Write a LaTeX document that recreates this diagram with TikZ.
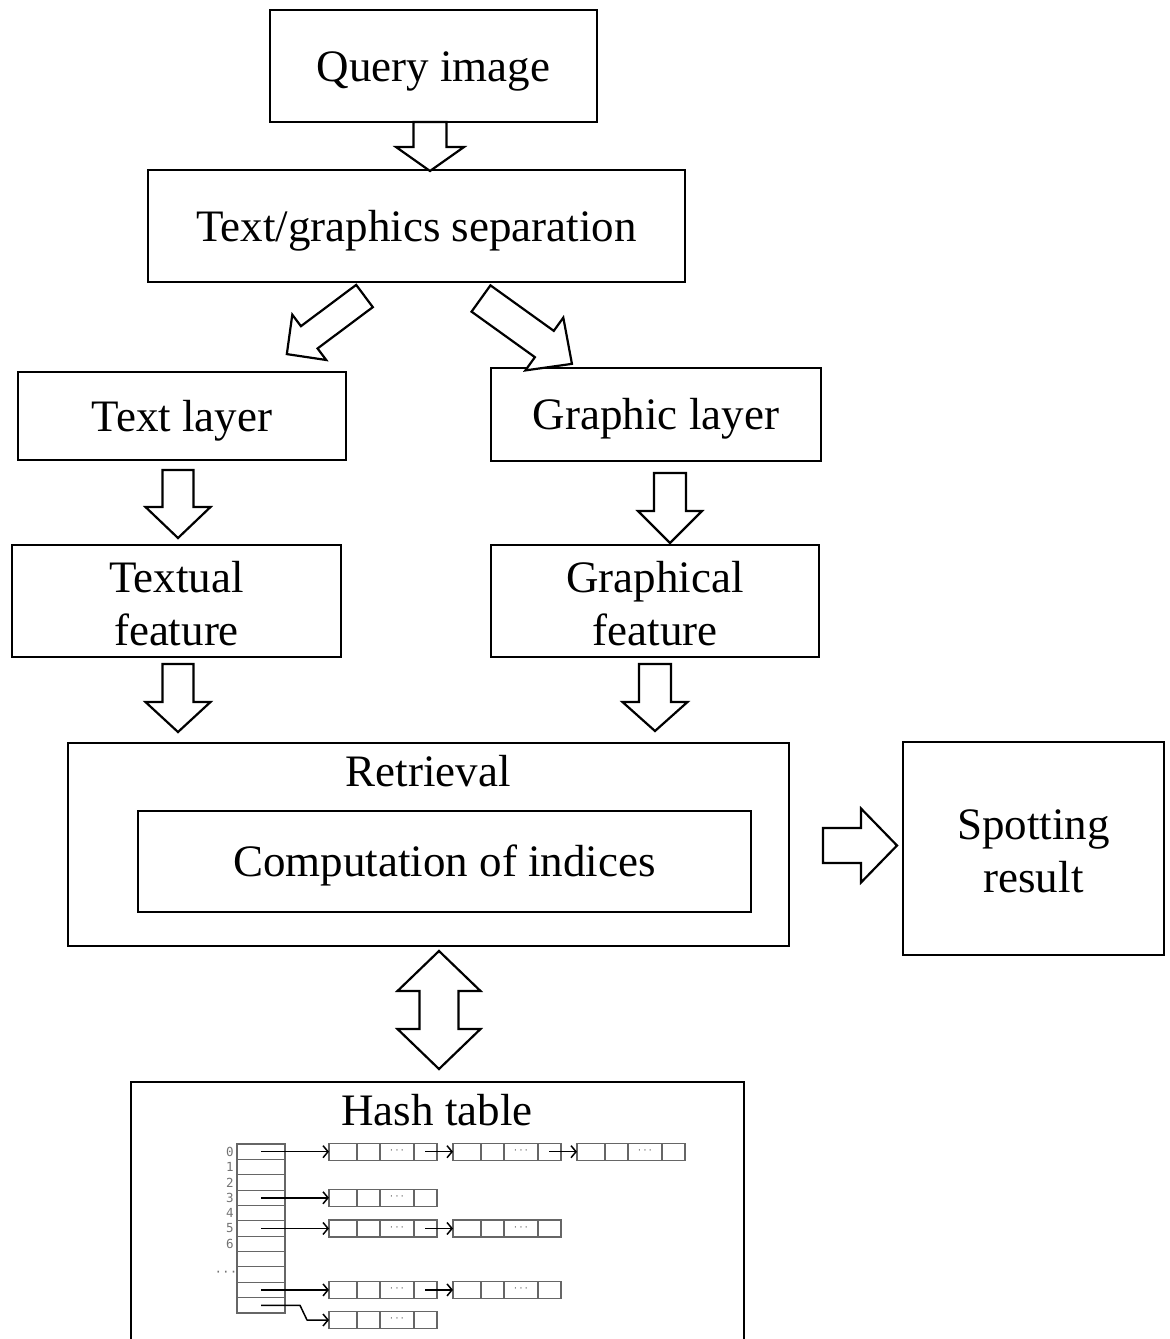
\documentclass[tikz,border=0pt]{standalone}
\usepackage{fontspec}
\setmainfont{Liberation Serif}
\newfontfamily\tablefont{DejaVu Sans Mono}
\usetikzlibrary{arrows.meta,calc}

% one row of a bucket chain: four cells, the third one holding dots
\newcommand\hashlist[3]{%
  \node[listbox, anchor=west] (#1) at (#2,#3) {};
  \foreach \dx in {28,51,85}
    \draw[listline] ($(#1.north west)+(\dx,0)$) -- ($(#1.south west)+(\dx,0)$);
  \node[dotlbl] at ($(#1.west)+(68,0)$) {···};
}

\begin{document}
\begin{tikzpicture}[x=1pt, y=-1pt,
  box/.style={draw, line width=2.5pt, inner sep=0pt, outer sep=0pt},
  lbltext/.style={font=\fontsize{45}{53}\selectfont, align=center, inner sep=0pt},
  lbl/.style={lbltext, text height=32pt, text depth=0pt, yshift=1pt},
  lbltwo/.style={lbltext, yshift=-3pt},
  blk/.style={draw, line width=2.2pt, fill=white, line join=miter},
  listline/.style={draw=black!60, line width=1.1pt},
  listbox/.style={listline, minimum width=108pt, minimum height=17pt, inner sep=0pt, outer sep=0pt},
  tcell/.style={listline, minimum width=48pt, minimum height=15.36pt, inner sep=0pt, outer sep=0pt},
  idx/.style={font=\tablefont\fontsize{12.5}{12.5}\selectfont, text=black!55, inner sep=0pt},
  dotlbl/.style={font=\tablefont\fontsize{9}{9}\selectfont, text=black!55, inner sep=0pt},
  link/.style={line width=1.5pt, line join=round, -{Straight Barb[length=5pt,width=12pt,line width=1.5pt]}},
  pics/blockarrow/.style n args={4}{code={%
    \draw[blk] (-#2,0) -- (-#2,{#1-#4}) -- (-#3,{#1-#4}) -- (0,#1)
      -- (#3,{#1-#4}) -- (#2,{#1-#4}) -- (#2,0) -- cycle;}},
  pics/dblarrow/.style n args={4}{code={%
    \draw[blk] (0,0) -- (#3,#4) -- (#2,#4) -- (#2,{#1-#4}) -- (#3,{#1-#4}) -- (0,#1)
      -- (-#3,{#1-#4}) -- (-#2,{#1-#4}) -- (-#2,#4) -- (-#3,#4) -- cycle;}}
]
\useasboundingbox (0,0) rectangle (1170,1339);
\clip (0,0) rectangle (1170,1339);

% main boxes
\node[box, minimum width=327pt, minimum height=112pt] (q) at (433.5,66) {};
\node[lbl] (qt) at (q.center) {Query image};
\node[box, minimum width=537pt, minimum height=112pt] (sep) at (416.5,226) {};
\node[lbl] (sept) at (sep.center) {Text/graphics separation};
\node[box, minimum width=328pt, minimum height=88pt] (tl) at (182,416) {};
\node[lbl] (tlt) at (tl.center) {Text layer};
\node[box, minimum width=330pt, minimum height=93pt] (gl) at (656,414.5) {};
\node[lbl] (glt) at (gl.center) {Graphic layer};
\node[box, minimum width=329pt, minimum height=112pt] (tf) at (176.5,601) {};
\node[lbltwo] (tft) at (tf.center) {Textual\\feature};
\node[box, minimum width=328pt, minimum height=112pt] (gf) at (655,601) {};
\node[lbltwo] (gft) at (gf.center) {Graphical\\feature};
\node[box, minimum width=721pt, minimum height=203pt] (ret) at (428.5,844.5) {};
\node[lbl] (rett) at (428,771) {Retrieval};
\node[box, minimum width=613pt, minimum height=101pt] (comp) at (444.5,861.5) {};
\node[lbl] (compt) at (comp.center) {Computation of indices};
\node[box, minimum width=261pt, minimum height=213pt] (spot) at (1033.5,848.5) {};
\node[lbltwo] (spott) at (spot.center) {Spotting\\result};
\node[box, minimum width=613pt, minimum height=276pt] (hash) at (437.5,1220) {};
\node[lbl] (hasht) at (437,1110) {Hash table};

% hollow block arrows between the stages
\pic at ($(q.south)+(-3.5,0)$) {blockarrow={49}{16.5}{34}{24}};
\pic[rotate=-53.2] at ($(sep.south)+(-52,14)$) {blockarrow={97}{13.9}{28.3}{28}};
\pic[rotate=54.3] at ($(sep.south)+(64.5,16.5)$) {blockarrow={112}{16.2}{32.5}{34}};
\pic at ($(tl.south)+(-4,10)$) {blockarrow={68}{15.5}{32.5}{31}};
\pic at ($(gl.south)+(14,12)$) {blockarrow={70}{16}{32}{32}};
\pic at ($(tf.south)+(1.5,7)$) {blockarrow={68}{15.5}{32.5}{30}};
\pic at ($(gf.south)+(0,7)$) {blockarrow={67}{16}{32.5}{29}};
\pic[rotate=90] at ($(ret.east)+(34,1)$) {blockarrow={74}{17.5}{37}{36}};
\pic at ($(ret.south)+(10.5,5)$) {dblarrow={118}{19.5}{41.5}{40}};

% hash table: index column
\foreach \i in {0,...,10}
  \node[tcell] (r\i) at (261,{1144+15.36*(\i+0.5)}) {};
\foreach \i in {0,...,6}
  \node[idx] (n\i) at ($(r\i.west)+(-7,0)$) {\i};
\node[idx] (ndots) at ($(r8.west)+(-11,-1)$) {···};

% bucket chains
\hashlist{l0a}{329}{1151.68}
\hashlist{l0b}{453}{1151.68}
\hashlist{l0c}{577}{1151.68}
\hashlist{l3a}{329}{1197.76}
\hashlist{l5a}{329}{1228.48}
\hashlist{l5b}{453}{1228.48}
\hashlist{l9a}{329}{1289.92}
\hashlist{l9b}{453}{1289.92}
\hashlist{l10a}{329}{1320}

% pointers
\draw[link] (r0.center) -- (l0a.west);
\draw[link] ($(l0a.east)+(-12,0)$) -- (l0b.west);
\draw[link] ($(l0b.east)+(-12,0)$) -- (l0c.west);
\draw[link] (r3.center) -- (l3a.west);
\draw[link] (r5.center) -- (l5a.west);
\draw[link] ($(l5a.east)+(-12,0)$) -- (l5b.west);
\draw[link] (r9.center) -- (l9a.west);
\draw[link] ($(l9a.east)+(-12,0)$) -- (l9b.west);
\draw[link] (r10.center) -- ++(39,0) -- ($(l10a.west)+(-22,0)$) -- (l10a.west);
\end{tikzpicture}
\end{document}
